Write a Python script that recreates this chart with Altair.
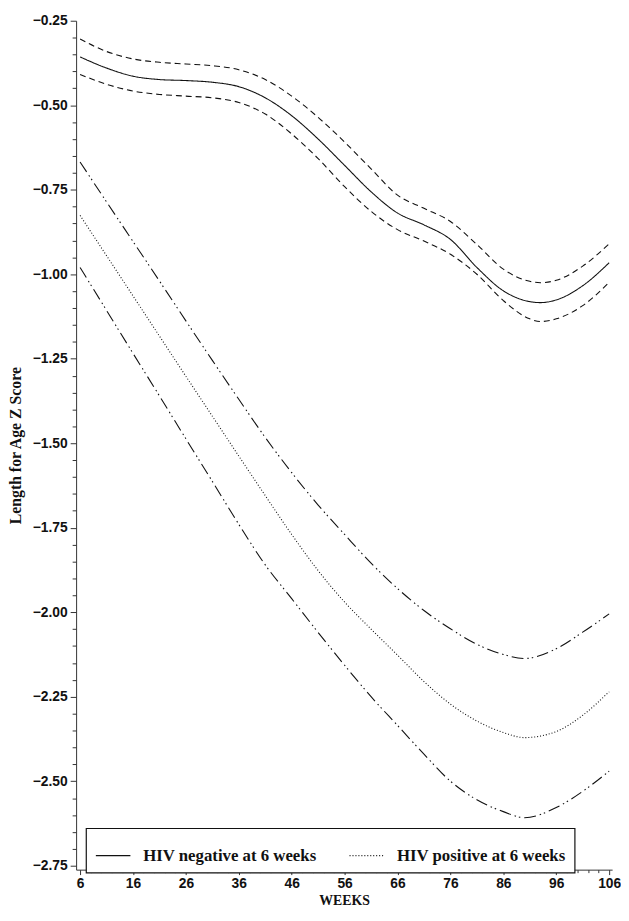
import altair as alt
import pandas as pd

# ---- data ----
weeks_neg = [6, 11, 16, 21, 26, 31, 36, 41, 46, 51, 56, 61, 66, 71, 76, 81, 86, 91, 93, 96, 101, 106]
neg_mean = [-0.357, -0.390, -0.414, -0.424, -0.427, -0.432, -0.445, -0.478, -0.531, -0.600, -0.678,
            -0.756, -0.819, -0.854, -0.897, -0.980, -1.049, -1.081, -1.084, -1.076, -1.034, -0.966]
neg_upper = [-0.304, -0.341, -0.363, -0.373, -0.378, -0.383, -0.395, -0.424, -0.473, -0.536, -0.609,
             -0.688, -0.766, -0.805, -0.844, -0.912, -0.985, -1.021, -1.025, -1.018, -0.976, -0.910]
neg_lower = [-0.409, -0.438, -0.458, -0.468, -0.473, -0.478, -0.492, -0.526, -0.585, -0.658, -0.741,
             -0.814, -0.868, -0.902, -0.941, -1.000, -1.078, -1.132, -1.140, -1.132, -1.093, -1.024]

weeks_pos = [6, 11, 16, 21, 26, 31, 36, 41, 46, 51, 56, 61, 66, 71, 76, 81, 86, 90, 96, 101, 106]
pos_mean = [-0.826, -0.945, -1.064, -1.183, -1.302, -1.420, -1.538, -1.655, -1.770, -1.877, -1.970,
            -2.050, -2.127, -2.205, -2.272, -2.322, -2.356, -2.371, -2.353, -2.305, -2.235]
pos_upper = [-0.668, -0.786, -0.903, -1.020, -1.138, -1.255, -1.370, -1.483, -1.587, -1.683, -1.770,
             -1.855, -1.930, -1.995, -2.049, -2.095, -2.125, -2.137, -2.108, -2.059, -2.005]
pos_lower = [-0.980, -1.107, -1.234, -1.360, -1.487, -1.613, -1.740, -1.860, -1.960, -2.060, -2.157,
             -2.250, -2.335, -2.420, -2.500, -2.555, -2.590, -2.608, -2.578, -2.530, -2.470]

series_names = ["HIV negative at 6 weeks", "HIV positive at 6 weeks",
                "neg_upper", "neg_lower", "pos_upper", "pos_lower"]
legend_names = ["HIV negative at 6 weeks", "HIV positive at 6 weeks"]
x_ticks = list(range(6, 107, 2))
y_ticks = [round(-2.75 + 0.05 * i, 2) for i in range(51)]

rows = []
for name, wk, vals in [
    (series_names[0], weeks_neg, neg_mean),
    (series_names[1], weeks_pos, pos_mean),
    (series_names[2], weeks_neg, neg_upper),
    (series_names[3], weeks_neg, neg_lower),
    (series_names[4], weeks_pos, pos_upper),
    (series_names[5], weeks_pos, pos_lower),
]:
    for w, v in zip(wk, vals):
        rows.append({"week": w, "z": v, "series": name})
df = pd.DataFrame(rows)

dashes = [[1, 0], [1, 2], [6, 4], [6, 4], [12, 4, 1.5, 3, 1.5, 4], [12, 4, 1.5, 3, 1.5, 4]]

y_major = "abs(datum.value*4 - round(datum.value*4)) < 0.001"
x_major = "(round(datum.value) - 6) % 10 == 0"
pad = "\u00a0" * 6

chart = alt.Chart(df).mark_line(
    interpolate="monotone", color="#111111", strokeWidth=1.1
).encode(
    x=alt.X("week:Q",
            scale=alt.Scale(domain=[5.25, 106.56], nice=False, zero=False),
            axis=alt.Axis(
                title="WEEKS", values=x_ticks,
                labelExpr=f"{x_major} ? datum.value : ''",
                tickSize={"condition": {"test": x_major, "value": 5}, "value": 3},
                labelFont="Liberation Sans", labelFontWeight="bold", labelFontSize=14,
                labelColor="#111111", labelPadding=2, labelFlush=False, labelOverlap=False,
                titleFont="Liberation Serif", titleFontWeight="bold", titleFontSize=14,
                titleColor="#111111", titlePadding=3,
                domainColor="#333333", tickColor="#333333", grid=False,
            )),
    y=alt.Y("z:Q",
            scale=alt.Scale(domain=[-2.7617, -0.25], nice=False, zero=False),
            axis=alt.Axis(
                title="Length for Age Z Score", values=y_ticks,
                labelExpr=f"{y_major} ? format(datum.value, '.2f') : ''",
                tickSize={"condition": {"test": y_major, "value": 6}, "value": 4},
                labelFont="Liberation Sans", labelFontWeight="bold", labelFontSize=14,
                labelColor="#111111", labelPadding=3, labelFlush=False, labelOverlap=False,
                titleFont="Liberation Serif", titleFontWeight="bold", titleFontSize=16,
                titleColor="#111111", titlePadding=9,
                domainColor="#333333", tickColor="#333333", grid=False,
            )),
    strokeDash=alt.StrokeDash(
        "series:N",
        scale=alt.Scale(domain=series_names, range=dashes),
        legend=alt.Legend(
            values=legend_names, title=None, orient="none",
            legendX=10, legendY=818, direction="horizontal",
            symbolType="stroke", symbolSize=1225, symbolStrokeWidth=1.2,
            symbolStrokeColor="#111111",
            labelFont="Liberation Serif", labelFontWeight="bold", labelFontSize=17,
            labelColor="#111111", labelOffset=12, labelLimit=450,
            labelExpr=f"datum.label == 'HIV positive at 6 weeks' ? datum.label + '{pad}' : datum.label",
            columnPadding=30, padding=9, strokeColor="#111111", fillColor="white",
        ),
    ),
    detail="series:N",
).properties(
    width=543, height=860,
    autosize=alt.AutoSizeParams(type="none"),
    padding={"left": 69, "top": 7, "right": 9, "bottom": 38},
).configure_view(stroke=None).configure_legend(strokeWidth=1.2)

chart.save("out.html", embed_options={"renderer": "svg", "actions": False})
